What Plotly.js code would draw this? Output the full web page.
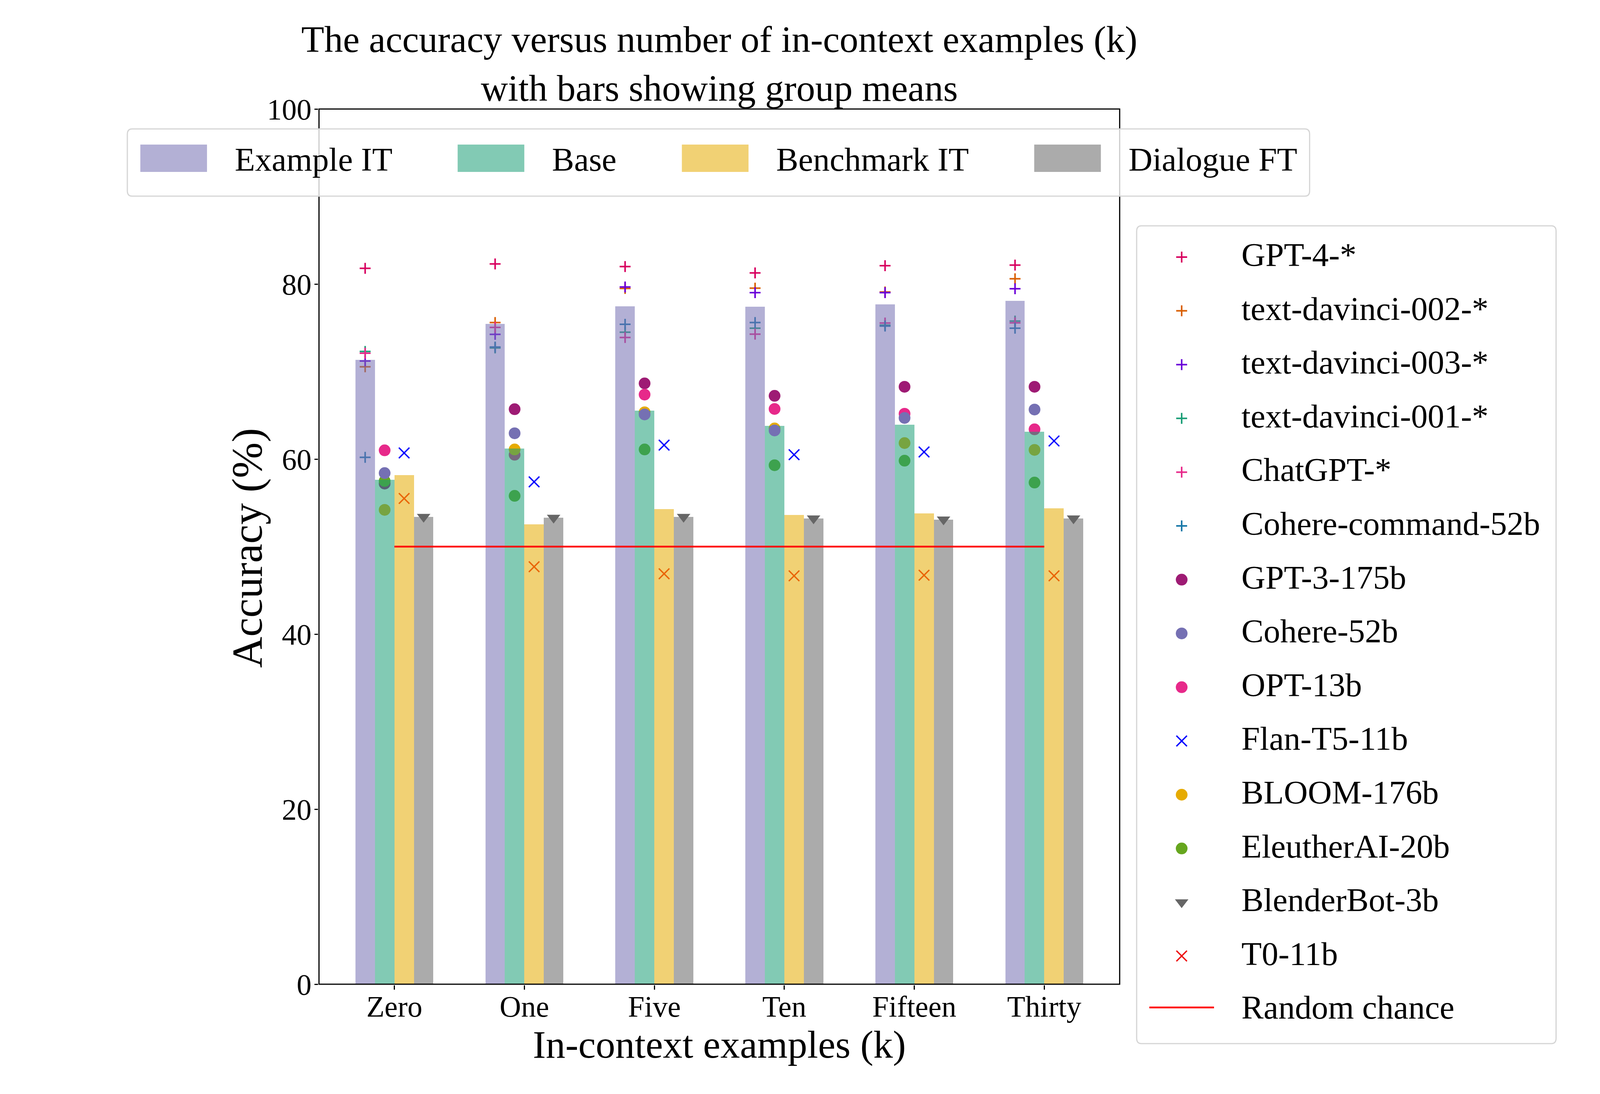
<!DOCTYPE html>
<html>
<head>
<meta charset="utf-8">
<script src="https://cdn.plot.ly/plotly-3.0.1.min.js"></script>
<style>
  html, body { margin: 0; padding: 0; background: #ffffff; overflow: hidden; }
  #chart { width: 100vw; height: 100vh; }
</style>
</head>
<body>
<div id="chart"></div>
<script>
// ---- data (accuracy, %) ----
var categories = ["Zero", "One", "Five", "Ten", "Fifteen", "Thirty"];
var groupNames = ["Example IT", "Base", "Benchmark IT", "Dialogue FT"];

// group means (bars)
var exampleIT   = [71.35, 75.45, 77.47, 77.41, 77.69, 78.10];
var baseMean    = [57.65, 61.20, 65.54, 63.81, 63.95, 63.13];
var benchmarkIT = [58.17, 52.55, 54.30, 53.63, 53.80, 54.39];
var dialogueFT  = [53.40, 53.30, 53.40, 53.22, 53.10, 53.22];

// per-model accuracies
var gpt4          = [81.80, 82.30, 82.00, 81.27, 82.10, 82.16];
var davinci002    = [70.55, 75.60, 79.50, 79.53, 79.10, 80.60];
var davinci003    = [71.20, 74.25, 79.66, 79.02, 79.02, 79.46];
var davinci001    = [72.30, 72.70, 74.50, 74.95, 75.30, 75.77];
var chatgpt       = [72.10, 75.05, 73.90, 74.27, 75.55, 75.57];
var cohereCommand = [60.20, 72.80, 75.40, 75.60, 75.20, 74.95];
var gpt3          = [57.20, 65.70, 68.65, 67.23, 68.26, 68.26];
var cohere52      = [58.40, 62.95, 65.10, 63.27, 64.70, 65.66];
var opt13         = [61.00, 60.50, 67.37, 65.73, 65.18, 63.40];
var flanT5        = [60.70, 57.40, 61.60, 60.50, 60.81, 62.07];
var bloom         = [54.20, 61.10, 65.35, 63.50, 61.83, 61.05];
var eleuther      = [57.50, 55.80, 61.10, 59.30, 59.82, 57.32];
var blenderbot    = [53.40, 53.30, 53.40, 53.22, 53.10, 53.22];
var t0            = [55.50, 47.70, 46.90, 46.66, 46.73, 46.66];

var randomChance = 50;

// ---- styling ----
var FONT = "Liberation Serif, Times New Roman, serif";
var barColors = ["#7570b3", "#1b9e77", "#e6ab02", "#666666"];
var barMeans = [exampleIT, baseMean, benchmarkIT, dialogueFT];
var BAR_W = 0.15;
var offsets = [-0.225, -0.075, 0.075, 0.225];

var models = [
  { name: "GPT-4-*",            y: gpt4,          group: 0, kind: "plus", color: "#d8005f" },
  { name: "text-davinci-002-*", y: davinci002,    group: 0, kind: "plus", color: "#d95f02" },
  { name: "text-davinci-003-*", y: davinci003,    group: 0, kind: "plus", color: "#6b00d9" },
  { name: "text-davinci-001-*", y: davinci001,    group: 0, kind: "plus", color: "#1b9e77" },
  { name: "ChatGPT-*",          y: chatgpt,       group: 0, kind: "plus", color: "#e7298a" },
  { name: "Cohere-command-52b", y: cohereCommand, group: 0, kind: "plus", color: "#1878a8" },
  { name: "GPT-3-175b",         y: gpt3,          group: 1, kind: "dot",  color: "#9e1b74" },
  { name: "Cohere-52b",         y: cohere52,      group: 1, kind: "dot",  color: "#7570b3", front: true },
  { name: "OPT-13b",            y: opt13,         group: 1, kind: "dot",  color: "#e7298a" },
  { name: "Flan-T5-11b",        y: flanT5,        group: 2, kind: "x",    color: "#0000ff", front: true },
  { name: "BLOOM-176b",         y: bloom,         group: 1, kind: "dot",  color: "#e6ab02" },
  { name: "EleutherAI-20b",     y: eleuther,      group: 1, kind: "dot",  color: "#66a61e" },
  { name: "BlenderBot-3b",      y: blenderbot,    group: 3, kind: "tri",  color: "#666666" },
  { name: "T0-11b",             y: t0,            group: 2, kind: "x",    color: "#ee1111" }
];

function markerFor(m) {
  if (m.kind === "plus") return { symbol: "cross-thin", size: 20, color: m.color, line: { color: m.color, width: 4 } };
  if (m.kind === "x") return { symbol: "x-thin", size: 27, color: m.color, line: { color: m.color, width: 3.5 } };
  if (m.kind === "tri") return { symbol: "triangle-down", size: 30, color: m.color, line: { width: 0 } };
  return { symbol: "circle", size: 30, color: m.color, line: { width: 0 } };
}

// ---- figure geometry: reference is laid out on a 4800 x 2800 grid ----
var W = window.innerWidth || 4096, H = window.innerHeight || 2800;
var RW = 4800, RH = 2800;
var sx = W / RW;
function fx(p) { return p / RW; }          // reference px -> figure fraction
function fy(p) { return 1 - p / RH; }
var PL = 957, PR = 3359, PT = 279, PB = 2519;  // plot frame in reference px

var catIdx = categories.map(function (c, i) { return i; });
var traces = [];

models.forEach(function (m) {
  traces.push({
    type: "scatter", mode: "markers", name: m.name, showlegend: false,
    x: catIdx.map(function (i) { return i + offsets[m.group]; }),
    y: m.y, marker: markerFor(m),
    zorder: m.front ? 2 : 0,
    hovertemplate: m.name + ": %{y:.1f}<extra></extra>"
  });
});

traces.push({
  type: "scatter", mode: "lines", name: "Random chance", showlegend: false,
  x: [catIdx[0], catIdx[catIdx.length - 1]], y: [randomChance, randomChance],
  line: { color: "#ff0000", width: 4.5 }, zorder: 3
});

groupNames.forEach(function (g, k) {
  traces.push({
    type: "bar", name: g, showlegend: false,
    x: catIdx.map(function (i) { return i + offsets[k]; }),
    y: barMeans[k], width: BAR_W,
    marker: { color: barColors[k], opacity: 0.55, line: { width: 0 } },
    zorder: 1,
    hovertemplate: g + ": %{y:.1f}<extra></extra>"
  });
});

// ---- legends (matplotlib style), laid out in reference px ----
var ctx = document.createElement("canvas").getContext("2d");
var LEG_FS = 85;
ctx.font = LEG_FS + "px 'Liberation Serif'";
var shapes = [], annotations = [];

// axes frame (all four spines)
shapes.push({
  type: "rect", xref: "paper", yref: "paper", layer: "above",
  x0: fx(PL), x1: fx(PR), y0: fy(PB), y1: fy(PT),
  line: { color: "#000000", width: 3 }, fillcolor: "rgba(0,0,0,0)"
});

function roundRect(x0, y0, x1, y1, r) {
  var X0 = fx(x0), X1 = fx(x1), Y0 = fy(y0), Y1 = fy(y1);
  var rx = r / RW, ry = r / RH;
  return "M" + (X0 + rx) + "," + Y0 + " L" + (X1 - rx) + "," + Y0 +
    " Q" + X1 + "," + Y0 + " " + X1 + "," + (Y0 - ry) +
    " L" + X1 + "," + (Y1 + ry) + " Q" + X1 + "," + Y1 + " " + (X1 - rx) + "," + Y1 +
    " L" + (X0 + rx) + "," + Y1 + " Q" + X0 + "," + Y1 + " " + X0 + "," + (Y1 + ry) +
    " L" + X0 + "," + (Y0 - ry) + " Q" + X0 + "," + Y0 + " " + (X0 + rx) + "," + Y0 + " Z";
}
function legendText(x, y, t) {
  annotations.push({
    xref: "paper", yref: "paper", x: fx(x), y: fy(y), xanchor: "left", yanchor: "middle",
    showarrow: false, text: t, font: { family: FONT, size: LEG_FS, color: "#000000" }
  });
}

// top legend: bar groups
var boxL = 382, boxT = 330, boxB = 502;
var cur = boxL + 39, lastEnd = cur, topShapes = [];
groupNames.forEach(function (g, k) {
  topShapes.push({
    type: "rect", xref: "paper", yref: "paper", layer: "above",
    x0: fx(cur), x1: fx(cur + 200), y0: fy(440), y1: fy(370),
    fillcolor: barColors[k], opacity: 0.55, line: { width: 0 }
  });
  var tx = cur + 281;
  legendText(tx, 408, g);
  lastEnd = tx + ctx.measureText(g).width / sx;
  cur = lastEnd + 198;
});
shapes.push({
  type: "path", xref: "paper", yref: "paper", layer: "above",
  path: roundRect(boxL, boxT, lastEnd + 39, boxB, 14),
  fillcolor: "rgba(255,255,255,0.8)", line: { color: "#d5d5d5", width: 3 }
});
shapes = shapes.concat(topShapes);

// right legend: models + random chance
var rowY0 = 652, rowStep = 137.6, markX = 3545, textX = 3722;
var legNames = models.map(function (m) { return m.name; }).concat(["Random chance"]);
var maxEnd = 0;
legNames.forEach(function (n, i) {
  legendText(textX, rowY0 + i * rowStep, n);
  maxEnd = Math.max(maxEnd, textX + ctx.measureText(n).width / sx);
});
shapes.push({
  type: "path", xref: "paper", yref: "paper", layer: "below",
  path: roundRect(3410, 578, Math.max(4634, maxEnd + 50), 2671, 14),
  fillcolor: "#ffffff", line: { color: "#d5d5d5", width: 3 }
});
models.forEach(function (m, i) {
  traces.push({
    type: "scatter", mode: "markers", xaxis: "x2", yaxis: "y2", showlegend: false, hoverinfo: "skip",
    x: [markX], y: [rowY0 + 6 + i * rowStep], marker: markerFor(m)
  });
});
traces.push({
  type: "scatter", mode: "lines", xaxis: "x2", yaxis: "y2", showlegend: false, hoverinfo: "skip",
  x: [3448, 3642], y: [rowY0 + models.length * rowStep, rowY0 + models.length * rowStep],
  line: { color: "#ff0000", width: 4.5 }
});

// y-axis title (vertical text keeps the reference size)
annotations.push({
  xref: "paper", yref: "paper", x: fx(742), y: fy(1402), xanchor: "center", yanchor: "middle",
  textangle: -90, showarrow: false, text: "Accuracy (%)",
  font: { family: FONT, size: 110, color: "#000000" }
});

var layout = {
  width: W, height: H,
  paper_bgcolor: "#ffffff", plot_bgcolor: "rgba(0,0,0,0)",
  font: { family: FONT, size: 76, color: "#000000" },
  margin: { l: 0, r: 0, t: 0, b: 0, pad: 0 },
  showlegend: false,
  title: {
    text: "The accuracy versus number of in-context examples (k)<br>with bars showing group means",
    font: { family: FONT, size: 96, color: "#000000" },
    x: fx((PL + PR) / 2), xref: "paper", xanchor: "center",
    y: 1 - 133 / H, yref: "container", yanchor: "top"
  },
  xaxis: {
    domain: [fx(PL), fx(PR)], anchor: "y",
    range: [-0.58, 5.58], tickmode: "array", tickvals: catIdx, ticktext: categories,
    showline: true, mirror: true, linecolor: "#000000", linewidth: 3,
    ticks: "outside", ticklen: 11, tickwidth: 3, tickcolor: "#000000",
    showgrid: false, zeroline: false, automargin: false, ticklabelstandoff: -22,
    tickfont: { family: FONT, size: 76 },
    title: { text: "In-context examples (k)", font: { family: FONT, size: 100 }, standoff: 4 }
  },
  yaxis: {
    domain: [fy(PB), fy(PT)], anchor: "x",
    range: [0, 100], tickmode: "array", tickvals: [0, 20, 40, 60, 80, 100],
    showline: true, mirror: true, linecolor: "#000000", linewidth: 3,
    ticks: "outside", ticklen: 9, tickwidth: 3, tickcolor: "#000000",
    showgrid: false, zeroline: false, automargin: false, ticklabelstandoff: -8,
    tickfont: { family: FONT, size: 76 }
  },
  xaxis2: { domain: [0, 1], range: [0, RW], anchor: "y2", visible: false, fixedrange: true },
  yaxis2: { domain: [0, 1], range: [RH, 0], anchor: "x2", visible: false, fixedrange: true },
  shapes: shapes,
  annotations: annotations,
  bargap: 0
};

Plotly.newPlot("chart", traces, layout, { displayModeBar: false, staticPlot: true });
</script>
</body>
</html>
